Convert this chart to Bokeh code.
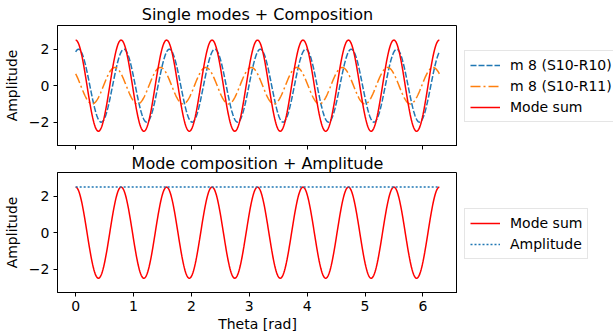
import numpy as np
from bokeh.plotting import figure
from bokeh.layouts import column, row
from bokeh.models import Legend, LegendItem, Range1d, FixedTicker, Spacer
from bokeh.embed import file_html
from bokeh.resources import INLINE

# ---- data ----
mode_labels = ["m 8 (S10-R10)", "m 8 (S10-R11)"]
mode_numbers = [8, 8]
mode_amplitudes = [2.0, 1.0]
mode_phases = [-0.39, 0.863]
mode_colors = ["#1f77b4", "#ff7f0e"]
mode_dashes = ["6 2", "10 3 2 3"]
sum_label = "Mode sum"
amp_label = "Amplitude"
x_ticks = [0, 1, 2, 3, 4, 5, 6]
y_ticks = [-2, 0, 2]

theta = np.linspace(0, 2 * np.pi, 600)
modes = [a * np.cos(n * theta + ph) for a, n, ph in zip(mode_amplitudes, mode_numbers, mode_phases)]
mode_sum = np.sum(modes, axis=0)
complex_sum = sum(a * np.exp(1j * ph) for a, ph in zip(mode_amplitudes, mode_phases))
amplitude = np.full_like(theta, np.abs(complex_sum))

FONT = "DejaVu Sans"
xr = (-0.314, 6.597)
yr = (-3.28, 3.3)
SUM_STYLE = dict(line_color="red", line_width=1.5)
AMP_STYLE = dict(line_color="#1f77b4", line_width=1.5, line_dash="2 2")


def style(p, title, show_xlabels):
    p.title.text = title
    p.title.align = "center"
    p.title.text_font = FONT
    p.title.text_font_size = "16px"
    p.title.text_font_style = "normal"
    p.title.text_color = "#000000"
    p.title.standoff = 0
    p.title.offset = 0
    p.outline_line_color = "#000000"
    p.outline_line_width = 1
    p.xgrid.visible = False
    p.ygrid.visible = False
    for ax in (p.xaxis[0], p.yaxis[0]):
        ax.axis_line_color = "#000000"
        ax.major_tick_line_color = "#000000"
        ax.major_tick_in = 0
        ax.major_tick_out = 4
        ax.minor_tick_line_color = None
        ax.major_label_text_font = FONT
        ax.major_label_text_font_size = "14px"
        ax.major_label_text_color = "#000000"
        ax.axis_label_text_font = FONT
        ax.axis_label_text_font_size = "14px"
        ax.axis_label_text_font_style = "normal"
        ax.axis_label_text_color = "#000000"
    p.xaxis.ticker = FixedTicker(ticks=x_ticks)
    p.yaxis.ticker = FixedTicker(ticks=y_ticks)
    p.yaxis.major_label_overrides = {t: (("\u2212" + str(abs(t))) if t < 0 else str(t)) for t in y_ticks}
    p.yaxis.axis_label = "Amplitude"
    p.yaxis.axis_label_standoff = 6
    p.yaxis.major_label_standoff = 4
    if not show_xlabels:
        p.xaxis.major_label_overrides = {t: "" for t in x_ticks}
        p.xaxis.major_label_standoff = 0
    else:
        p.xaxis.axis_label = "Theta [rad]"
        p.xaxis.axis_label_standoff = 2
        p.xaxis.major_label_standoff = 4


def legend_fig(entries, height):
    """A bare figure that only carries a legend (drawn beside the plot)."""
    f = figure(width=158, height=height, output_backend="svg", toolbar_location=None,
               x_axis_location=None, y_axis_location=None,
               x_range=Range1d(0, 1), y_range=Range1d(0, 1),
               min_border=0, min_border_left=0, min_border_right=0,
               min_border_top=0, min_border_bottom=0)
    f.outline_line_color = None
    f.xgrid.visible = False
    f.ygrid.visible = False
    items = []
    for lab, st in entries:
        # off-range stand-in renderer: only its style is used by the legend
        r = f.line(x=[5, 6], y=[5, 6], **st)
        items.append(LegendItem(label=lab, renderers=[r]))
    lg = Legend(items=items, location="top_left")
    lg.label_text_font = FONT
    lg.label_text_font_size = "14px"
    lg.label_text_color = "#000000"
    lg.border_line_color = "#cccccc"
    lg.border_line_width = 1
    lg.background_fill_color = "#ffffff"
    lg.background_fill_alpha = 1
    lg.glyph_width = 30
    lg.glyph_height = 18
    lg.label_standoff = 10
    lg.spacing = 3
    lg.padding = 5
    lg.margin = 7
    lg.label_height = 18
    f.add_layout(lg, "center")
    return f


# ---- top subplot ----
p1 = figure(frame_width=400, frame_height=120, output_backend="svg", toolbar_location=None,
            x_range=Range1d(*xr), y_range=Range1d(*yr),
            min_border_left=55, min_border_top=25, min_border_right=0, min_border_bottom=6)
style(p1, "Single modes + Composition", False)
p1.title.standoff = 3
top_entries = []
for y, lab, col, dash in zip(modes, mode_labels, mode_colors, mode_dashes):
    st = dict(line_color=col, line_width=1.5, line_dash=dash)
    p1.line(theta, y, **st)
    top_entries.append((lab, st))
p1.line(theta, mode_sum, **SUM_STYLE)
top_entries.append((sum_label, SUM_STYLE))
leg1 = legend_fig(top_entries, 108)

# ---- bottom subplot ----
p2 = figure(frame_width=400, frame_height=120, output_backend="svg", toolbar_location=None,
            x_range=p1.x_range, y_range=Range1d(*yr),
            min_border_left=55, min_border_top=21, min_border_right=0, min_border_bottom=43)
style(p2, "Mode composition + Amplitude", True)
p2.line(theta, mode_sum, **SUM_STYLE)
p2.line(theta, amplitude, **AMP_STYLE)
leg2 = legend_fig([(sum_label, SUM_STYLE), (amp_label, AMP_STYLE)], 134)

layout = column(
    row(p1, column(Spacer(width=158, height=43), leg1, spacing=0), spacing=0),
    row(p2, column(Spacer(width=158, height=50), leg2, spacing=0), spacing=0),
    spacing=0,
)
open("out.html", "w").write(file_html(layout, INLINE))
